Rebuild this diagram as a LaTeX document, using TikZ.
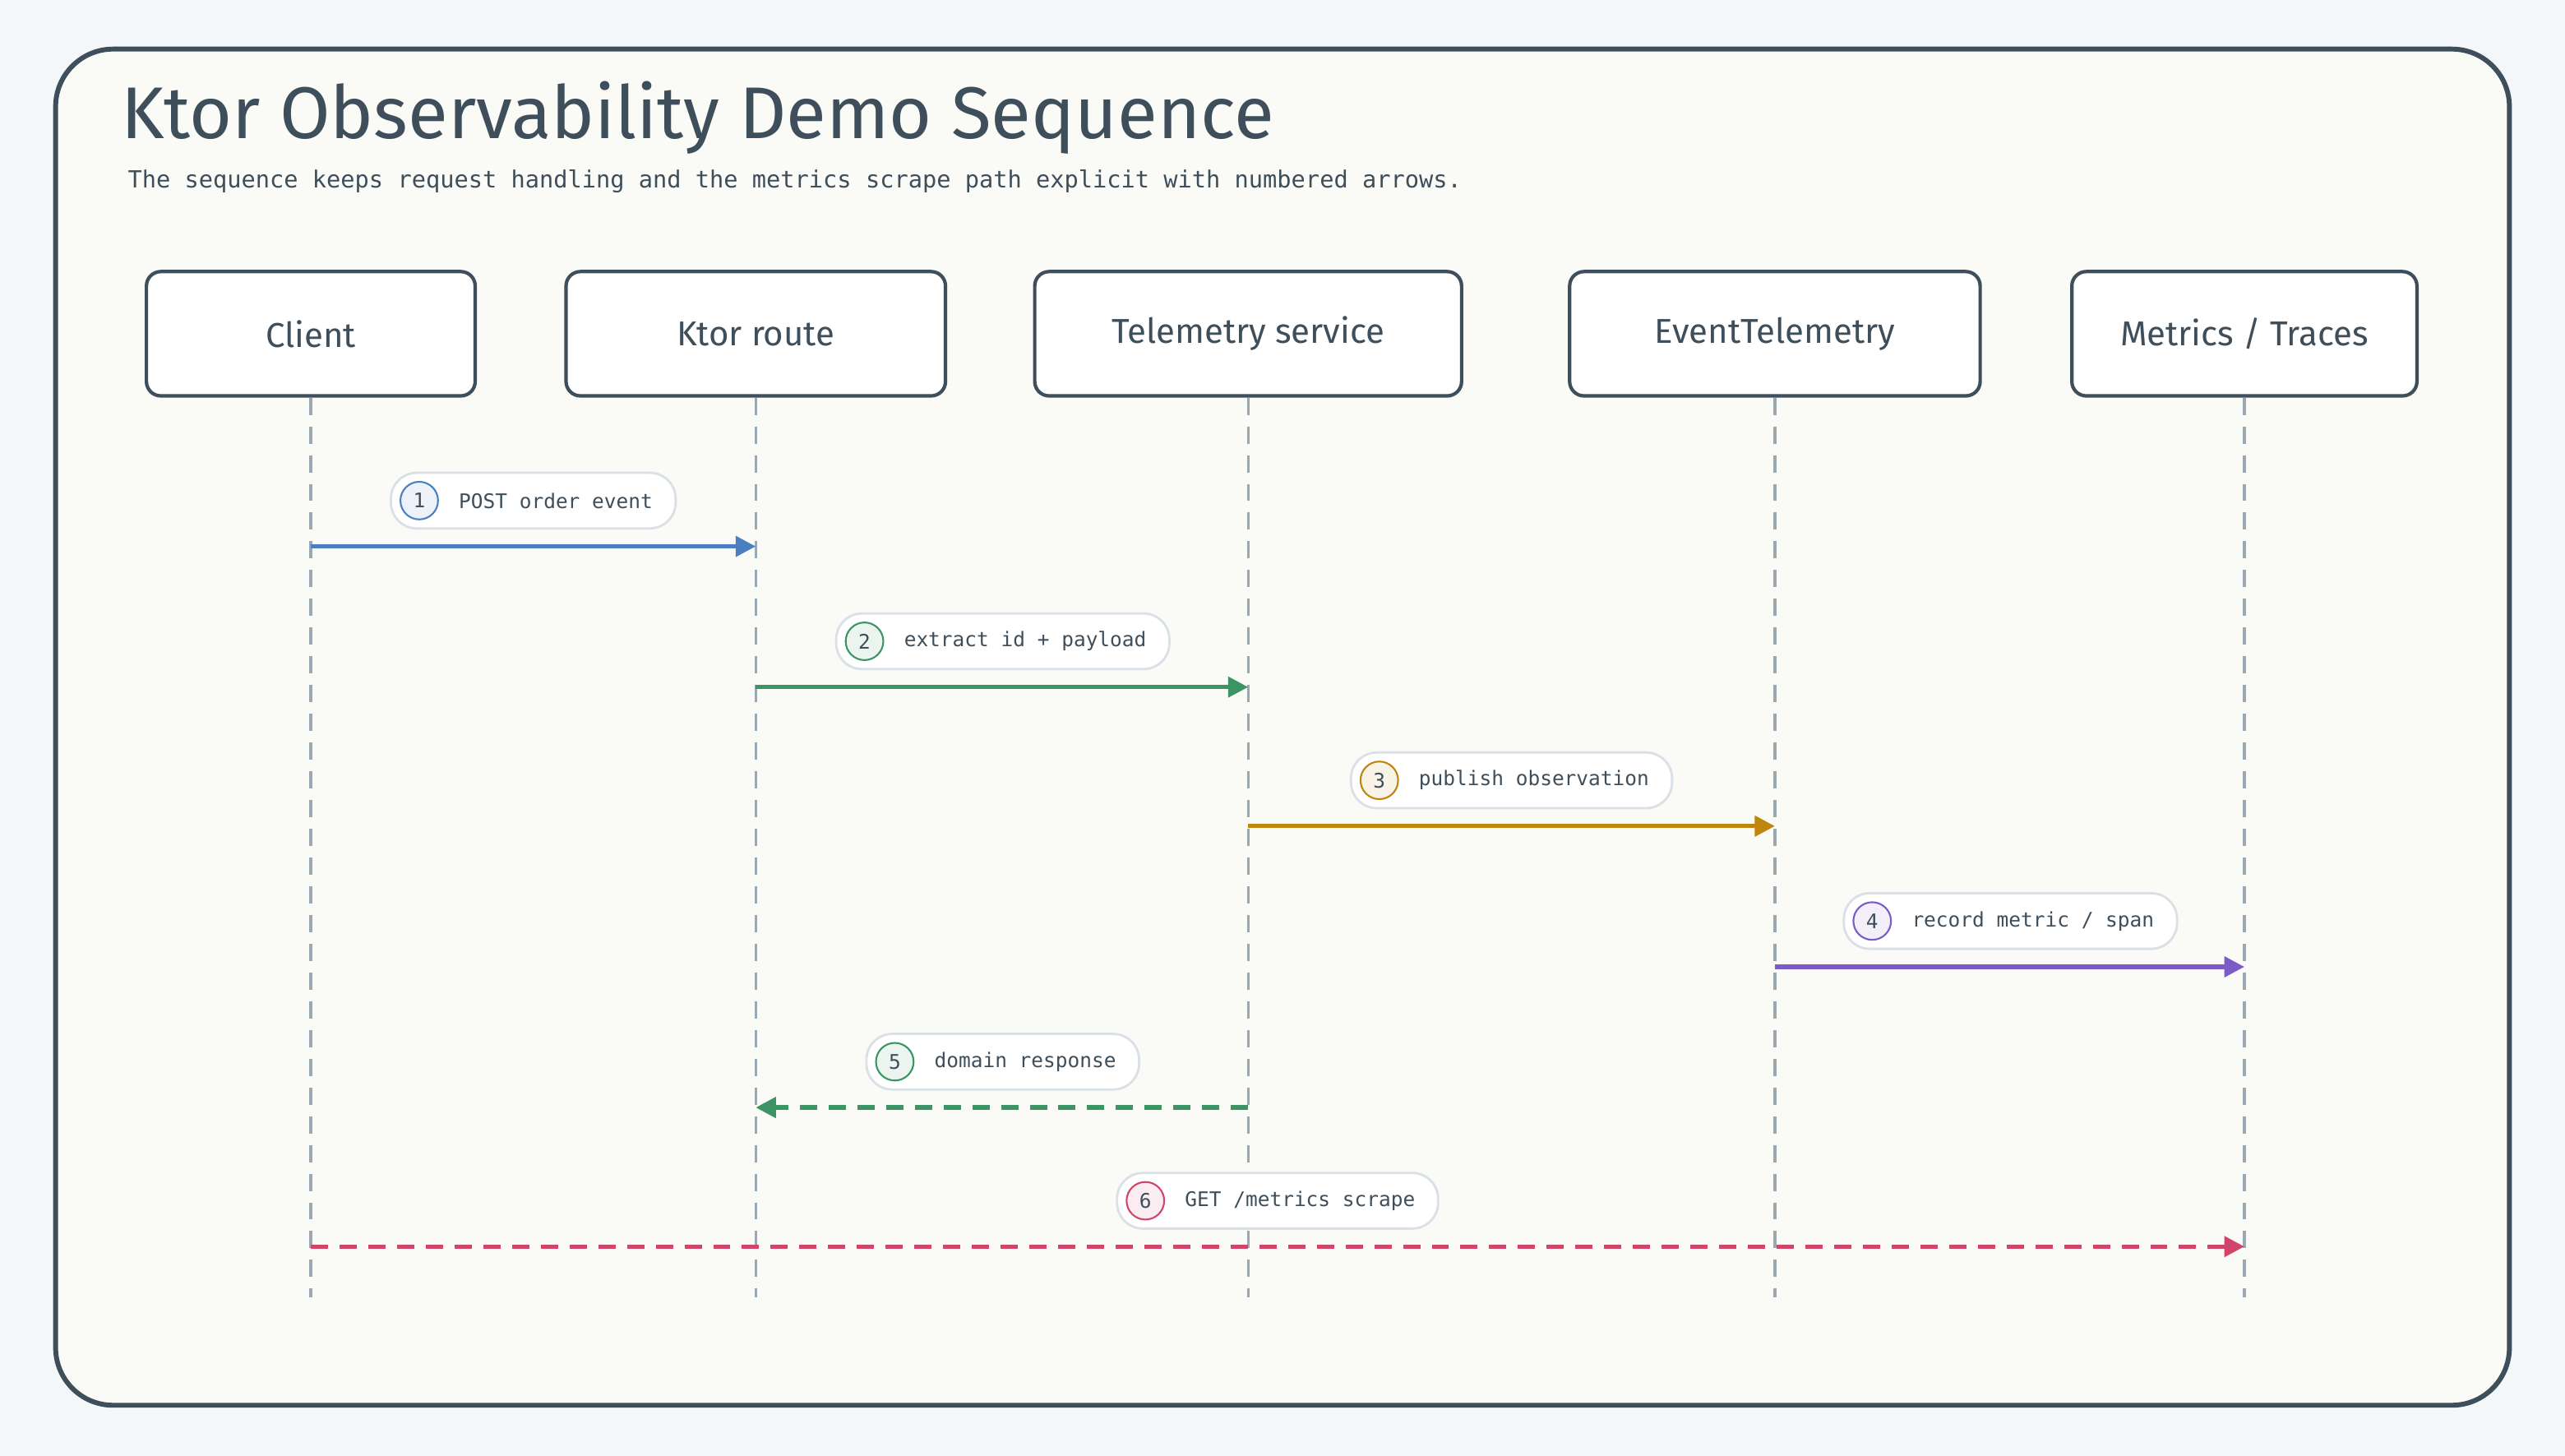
\documentclass[tikz,border=0pt]{standalone}
\usepackage{fontspec}
\setsansfont{Fira Sans}
\setmonofont{DejaVu Sans Mono}
\usetikzlibrary{positioning,arrows.meta}
\definecolor{pagebg}{HTML}{F4F7FA}
\definecolor{cardbg}{HTML}{FAFAF7}
\definecolor{ink}{HTML}{3E4E5A}
\definecolor{life}{HTML}{9AA8B2}
\definecolor{pillline}{HTML}{D9E0E6}
\definecolor{cblue}{HTML}{4A7FC1}
\definecolor{cgreen}{HTML}{3C9464}
\definecolor{corange}{HTML}{C0850F}
\definecolor{cpurple}{HTML}{7B5CC7}
\definecolor{cred}{HTML}{D0466A}
\tikzset{
  actor/.style={draw=ink,line width=1.2pt,fill=white,rounded corners=5pt,
    minimum height=1.52cm,font=\sffamily\fontsize{12}{14}\selectfont,text=ink},
  lifeline/.style={draw=life,line width=0.9pt,dash pattern=on 6pt off 4pt},
  msg/.style={line width=1.5pt,-{Triangle[length=7pt,width=7pt]}},
  longdash/.style={dash pattern=on 6pt off 4pt},
  pill/.style={draw=pillline,line width=0.8pt,fill=white,rounded corners=9pt,
    minimum height=0.68cm,inner xsep=8pt,font=\ttfamily\fontsize{7}{8}\selectfont,text=ink},
  num/.style={circle,draw=#1,fill=#1!10,line width=0.6pt,inner sep=0pt,
    minimum size=0.46cm,font=\ttfamily\fontsize{7}{8}\selectfont,text=ink}
}
\begin{document}
\begin{tikzpicture}[x=0.02cm,y=-0.02cm]
\fill[pagebg] (0,0) rectangle (1568,890);
\useasboundingbox (0,0) rectangle (1568,890);
\draw[ink,fill=cardbg,line width=1.7pt,rounded corners=20pt] (34,30) rectangle (1534,859);
\node[anchor=west,font=\sffamily\fontsize{25.5}{28}\selectfont,text=ink] (title) at (68,72) {Ktor Observability Demo Sequence};
\node[anchor=west,font=\ttfamily\fontsize{8.2}{10}\selectfont,text=ink] (sub) at (72,111)
  {The sequence keeps request handling and the metrics scrape path explicit with numbered arrows.};

% participants
\node[actor,minimum width=4.02cm] (client) at (190,204) {Client};
\node[actor,minimum width=4.64cm] (route) at (462,204) {Ktor route};
\node[actor,minimum width=5.22cm] (svc) at (763,204) {Telemetry service};
\node[actor,minimum width=5.02cm] (evt) at (1085,204) {EventTelemetry};
\node[actor,minimum width=4.22cm] (mt) at (1372,204) {Metrics / Traces};

\foreach \p/\x in {client/190,route/462,svc/763,evt/1085,mt/1372} {
  \coordinate (\p end) at (\x,793);
  \draw[lifeline] (\p.south) -- (\p end);
}

% messages
\foreach \i/\from/\to/\y/\col/\lx/\txt/\sty in {
  1/client/route/334/cblue/326/{POST order event}/solid,
  2/route/svc/420/cgreen/613/{extract id + payload}/solid,
  3/svc/evt/505/corange/924/{publish observation}/solid,
  4/evt/mt/591/cpurple/1229/{record metric / span}/solid,
  5/svc/route/677/cgreen/613/{domain response}/longdash,
  6/client/mt/762/cred/781/{GET /metrics scrape}/longdash} {
  \coordinate (m\i a) at (\from |- 0,\y);
  \coordinate (m\i b) at (\to |- 0,\y);
  \draw[msg,\col,\sty] (m\i a) -- (m\i b);
  \node[pill] (lab\i) at (\lx,\y-28) {\hspace*{0.55cm}\txt};
  \node[num=\col,right=0.12cm of lab\i.west] (n\i) {\i};
}
\end{tikzpicture}
\end{document}
